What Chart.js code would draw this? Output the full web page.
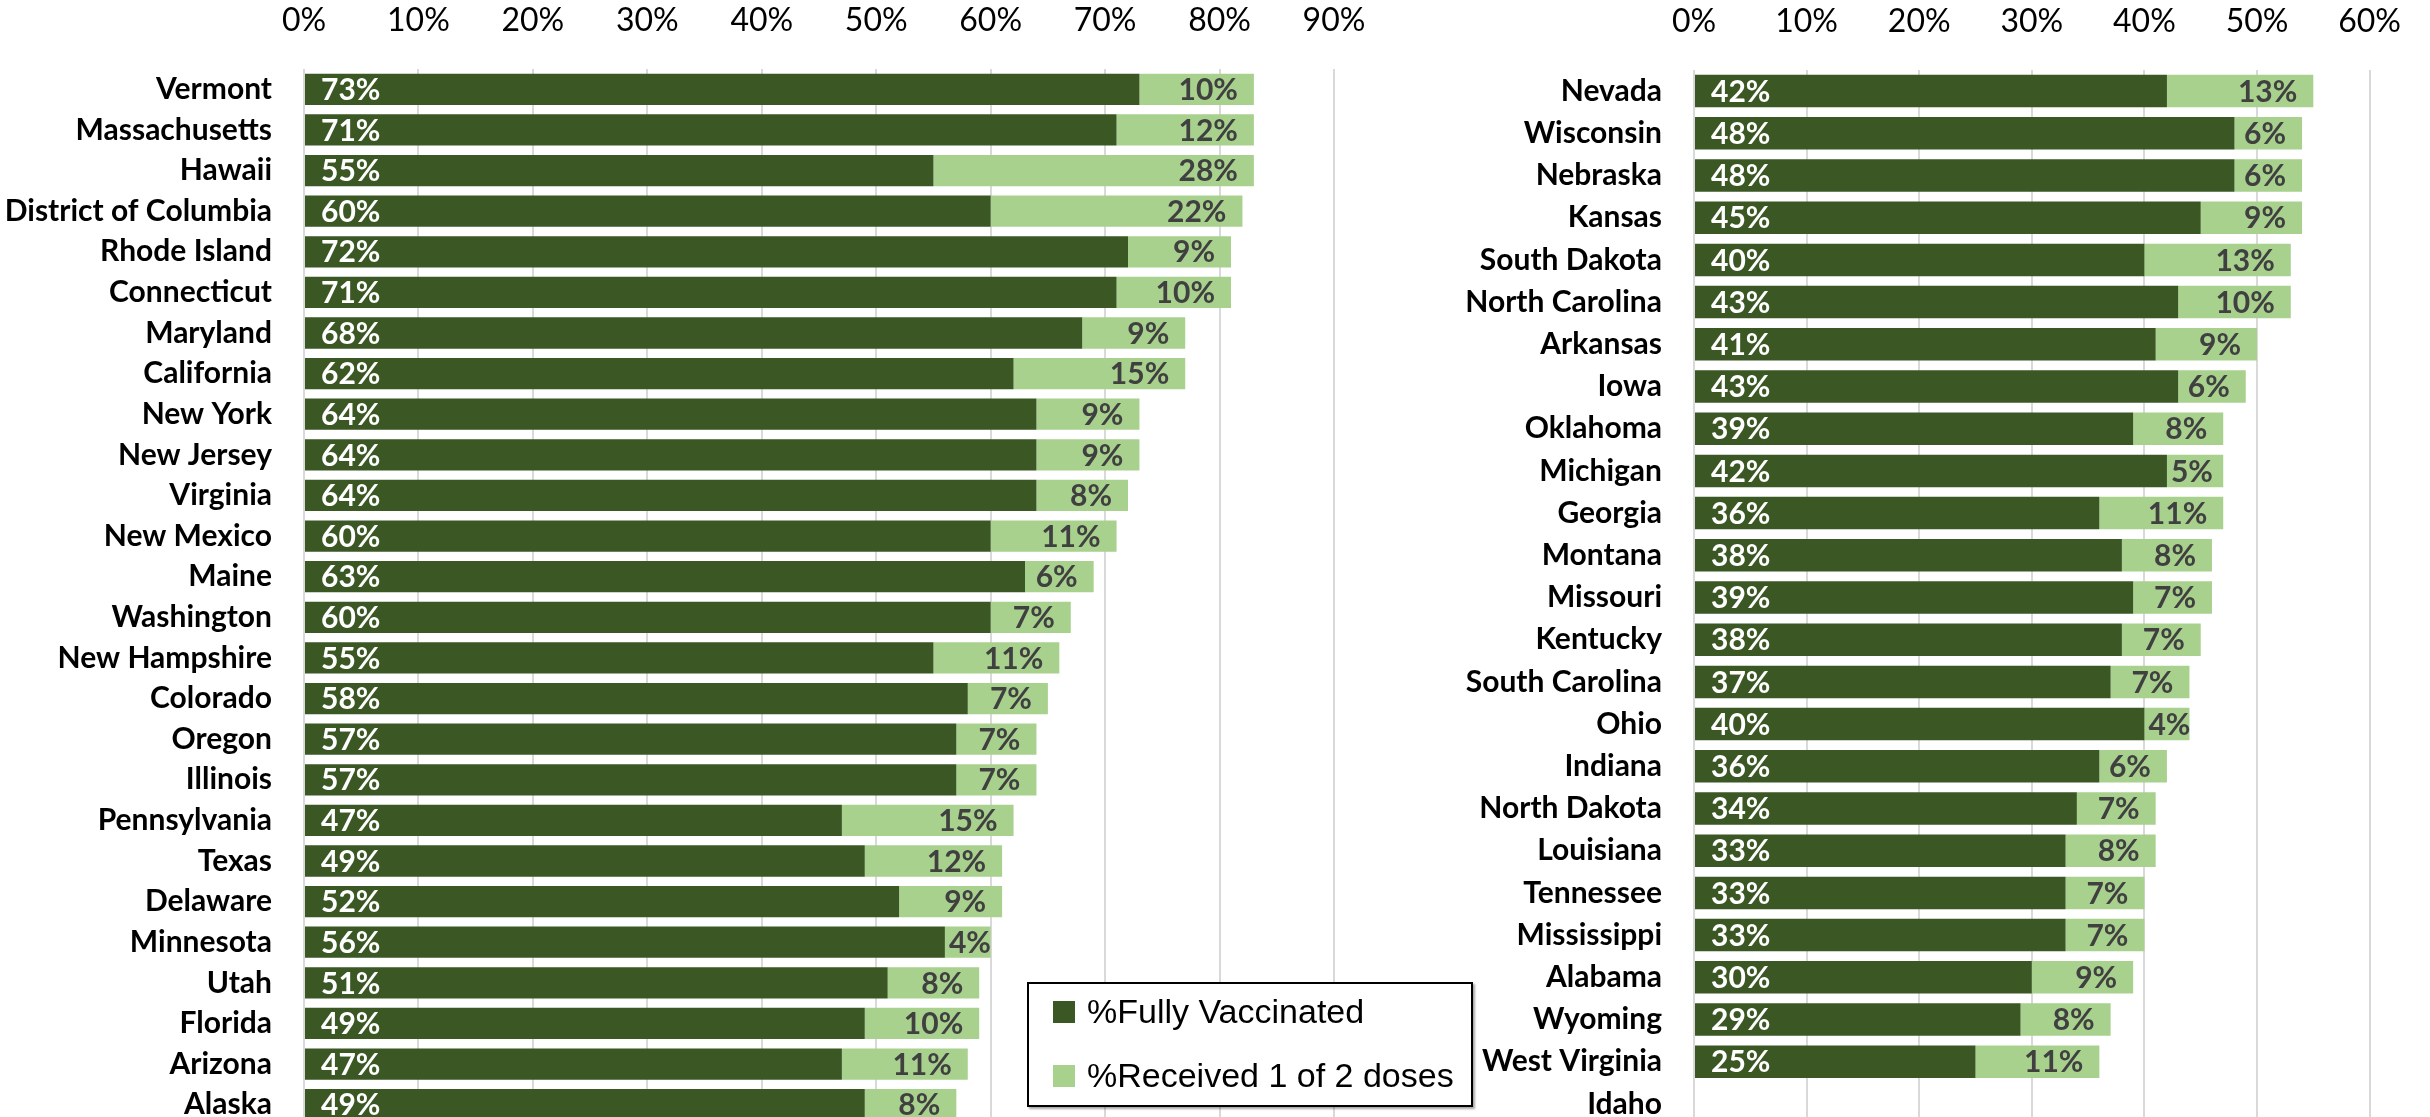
<!DOCTYPE html>
<html lang="en">
<head>
    <meta charset="UTF-8">
    <title>Vaccination by State</title>
    <script src="https://cdn.jsdelivr.net/npm/chart.js"></script>
    <style>
        body {
            margin: 0;
            padding: 0;
            background: #ffffff;
            overflow: hidden;
            width: 2430px;
            height: 1117px;
            position: relative;
        }
        .panel {
            position: absolute;
            top: 0;
            height: 1125px;
        }
        #leftPanel { left: 0; width: 1400px; }
        #rightPanel { left: 1400px; width: 1030px; }
        .legend {
            position: absolute;
            left: 1027px;
            top: 982px;
            width: 442px;
            height: 121px;
            background: #ffffff;
            border: 2px solid #000;
            box-shadow: 2px 2px 2px rgba(0,0,0,0.35);
            font-family: 'Liberation Sans', Arial, sans-serif;
            font-size: 34px;
            color: #000;
        }
        .legend-item {
            position: absolute;
            left: 24px;
            display: flex;
            align-items: center;
            white-space: nowrap;
        }
        .legend-item span.box {
            display: inline-block;
            width: 22px;
            height: 22px;
            margin-right: 12px;
        }
    </style>
</head>
<body>
    <div class="panel" id="leftPanel"><canvas id="leftChart"></canvas></div>
    <div class="panel" id="rightPanel"><canvas id="rightChart"></canvas></div>
    <div class="legend">
        <div class="legend-item" style="top: 8px;"><span class="box" style="background:#3a5724"></span>%Fully Vaccinated</div>
        <div class="legend-item" style="top: 72px;"><span class="box" style="background:#a9d18e"></span>%Received 1 of 2 doses</div>
    </div>

    <script>
        // left panel
        const leftStates = ['Vermont', 'Massachusetts', 'Hawaii', 'District of Columbia', 'Rhode Island',
            'Connecticut', 'Maryland', 'California', 'New York', 'New Jersey', 'Virginia', 'New Mexico',
            'Maine', 'Washington', 'New Hampshire', 'Colorado', 'Oregon', 'Illinois', 'Pennsylvania',
            'Texas', 'Delaware', 'Minnesota', 'Utah', 'Florida', 'Arizona', 'Alaska'];
        const leftFully = [73, 71, 55, 60, 72, 71, 68, 62, 64, 64, 64, 60, 63, 60, 55, 58, 57, 57, 47, 49, 52, 56, 51, 49, 47, 49];
        const leftPartial = [10, 12, 28, 22, 9, 10, 9, 15, 9, 9, 8, 11, 6, 7, 11, 7, 7, 7, 15, 12, 9, 4, 8, 10, 11, 8];
        const leftTicks = [0, 10, 20, 30, 40, 50, 60, 70, 80, 90];

        // right panel
        const rightStates = ['Nevada', 'Wisconsin', 'Nebraska', 'Kansas', 'South Dakota', 'North Carolina',
            'Arkansas', 'Iowa', 'Oklahoma', 'Michigan', 'Georgia', 'Montana', 'Missouri', 'Kentucky',
            'South Carolina', 'Ohio', 'Indiana', 'North Dakota', 'Louisiana', 'Tennessee', 'Mississippi',
            'Alabama', 'Wyoming', 'West Virginia', 'Idaho'];
        const rightFully = [42, 48, 48, 45, 40, 43, 41, 43, 39, 42, 36, 38, 39, 38, 37, 40, 36, 34, 33, 33, 33, 30, 29, 25, null];
        const rightPartial = [13, 6, 6, 9, 13, 10, 9, 6, 8, 5, 11, 8, 7, 7, 7, 4, 6, 7, 8, 7, 7, 9, 8, 11, null];
        const rightTicks = [0, 10, 20, 30, 40, 50, 60];

        const DARK = '#3a5724';
        const LIGHT = '#a9d18e';
        const LABEL_FONT = "Lato, 'Open Sans', sans-serif";
        const PLOT_BOTTOM = 1125; // plot runs past the bottom edge, like the original

        // draws the % labels on the bars
        const barLabels = {
            id: 'barLabels',
            afterDatasetsDraw(chart) {
                const ctx = chart.ctx;
                ctx.save();
                ctx.font = 'bold 30px ' + LABEL_FONT;
                ctx.textBaseline = 'middle';
                chart.data.datasets.forEach((ds, di) => {
                    const meta = chart.getDatasetMeta(di);
                    meta.data.forEach((bar, i) => {
                        const v = ds.data[i];
                        if (v === null || v === undefined) return;
                        const txt = v + '%';
                        const w = ctx.measureText(txt).width;
                        if (di === 0) {
                            ctx.fillStyle = '#ffffff';
                            ctx.textAlign = 'left';
                            ctx.fillText(txt, bar.base + 16, bar.y + 1);
                        } else {
                            ctx.fillStyle = '#404040';
                            ctx.textAlign = 'right';
                            let right = bar.x - 16;
                            if (right - w < bar.base + 4) right = bar.base + 4 + w;
                            ctx.fillText(txt, right, bar.y + 1);
                        }
                    });
                });
                ctx.restore();
            }
        };

        function makeChart(id, states, fully, partial, ticks, axisW, padRight, topH) {
            const canvas = document.getElementById(id);
            const chart = new Chart(canvas.getContext('2d'), {
                type: 'bar',
                data: {
                    labels: states,
                    datasets: [
                        { label: '%Fully Vaccinated', data: fully, backgroundColor: DARK },
                        { label: '%Received 1 of 2 doses', data: partial, backgroundColor: LIGHT }
                    ]
                },
                options: {
                    indexAxis: 'y',
                    responsive: true,
                    maintainAspectRatio: false,
                    animation: false,
                    layout: { padding: { left: 0, right: padRight, top: 0, bottom: 0 } },
                    datasets: {
                        bar: { categoryPercentage: 1, barPercentage: 0.77, borderWidth: 0 }
                    },
                    plugins: {
                        legend: { display: false },
                        tooltip: { enabled: false }
                    },
                    scales: {
                        x: {
                            position: 'top',
                            stacked: true,
                            min: ticks[0],
                            max: ticks[ticks.length - 1],
                            afterBuildTicks: (scale) => { scale.ticks = ticks.map(v => ({ value: v })); },
                            afterFit: (scale) => { scale.height = topH; },
                            border: { display: false },
                            grid: { color: '#d9d9d9', lineWidth: 2, drawTicks: false },
                            ticks: {
                                padding: 29,
                                color: '#000',
                                font: { family: LABEL_FONT, size: 32 },
                                callback: (v) => v + '%'
                            }
                        },
                        y: {
                            stacked: true,
                            afterFit: (scale) => {
                                scale.width = axisW;
                                scale.paddingTop = 0;
                                scale.paddingBottom = 0;
                            },
                            border: { display: false },
                            grid: { display: false, drawTicks: false },
                            ticks: {
                                padding: 32,
                                color: '#000',
                                autoSkip: false,
                                font: { family: LABEL_FONT, size: 30, weight: 'bold' }
                            }
                        }
                    }
                },
                plugins: [barLabels]
            });
            // stretch the panel so the plot area ends where the original's does
            const diff = PLOT_BOTTOM - chart.chartArea.bottom;
            if (Math.abs(diff) > 0.5) {
                canvas.parentNode.style.height = (chart.height + diff) + 'px';
                chart.resize();
            }
            return chart;
        }

        document.fonts.ready.then(() => {
            makeChart('leftChart', leftStates, leftFully, leftPartial, leftTicks, 304, 66, 69);
            makeChart('rightChart', rightStates, rightFully, rightPartial, rightTicks, 294, 58, 70);
        });
    </script>
</body>
</html>
